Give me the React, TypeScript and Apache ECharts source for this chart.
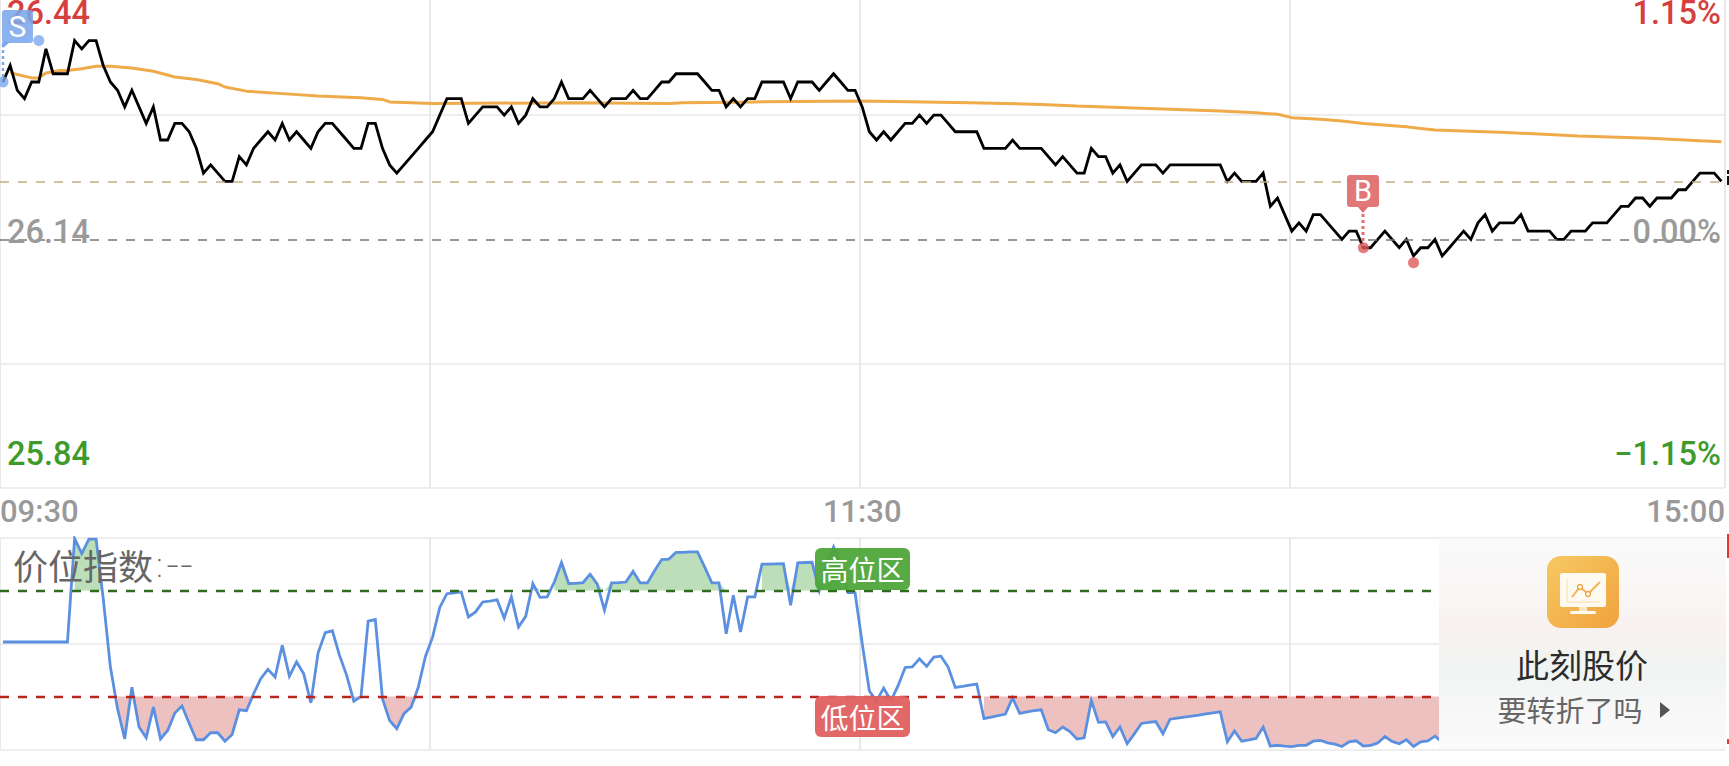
import React, { useEffect, useRef } from "react";
import * as echarts from "echarts";

const PREV_CLOSE = 26.14;
// minute-by-minute price, in cents above the previous close
const priceCents = [
  19,21,18,17,19,19,23,20,20,20,
  24,23,24,24,21,19,18,16,18,16,
  14,16,12,12,14,14,13,11,8,9,
  8,7,7,10,9,11,12,13,12,14,
  12,13,12,11,13,14,14,13,12,11,
  11,14,14,11,9,8,9,10,11,12,
  13,15,17,17,17,14,15,16,16,16,
  15,16,14,15,17,16,16,17,19,17,
  17,17,18,17,16,17,17,17,18,17,
  17,18,19,19,20,20,20,20,19,18,
  18,16,17,16,17,17,19,19,19,19,
  17,19,19,19,18,19,20,19,18,18,
  16,13,12,13,12,13,14,14,15,14,
  15,15,14,13,13,13,13,11,11,11,
  11,12,11,11,11,11,10,9,10,9,
  8,8,11,10,10,8,9,7,8,9,
  9,9,8,9,9,9,9,9,9,9,
  9,7,8,7,7,7,8,4,5,3,
  1,2,1,3,3,2,1,0,1,1,
  -1,-1,0,1,0,-1,0,-2,-1,-1,
  0,-2,-1,0,1,0,2,3,1,2,
  2,2,3,1,1,1,1,0,0,1,
  1,1,2,2,2,3,4,4,5,5,
  4,5,5,5,6,6,7,8,8,8,
  7,
];
// average price line, read at these minutes
const avgMinutes = [1,2,4,5,6,8,9,11,13,15,18,21,24,27,30,31,34,39,44,50,53,54,60,80,93,95,105,120,135,140,145,150,160,170,175,178,180,184,187,190,196,198,200,210,220,230,237,240];
const avgCents = [20.2,19.9,19.5,19.5,20.1,20.4,20.4,20.6,20.9,20.9,20.7,20.3,19.6,19.3,18.8,18.4,17.9,17.6,17.3,17.1,16.9,16.6,16.4,16.5,16.4,16.5,16.6,16.7,16.5,16.4,16.3,16.1,15.8,15.5,15.3,15.1,14.7,14.5,14.3,14.0,13.6,13.4,13.2,12.9,12.5,12.2,11.9,11.8];
// price position index
const indexValues = [
  50.7,50.7,50.7,50.7,50.7,50.7,50.7,50.7,50.7,50.7,
  99.5,92.4,99.2,99.2,71.2,38.9,19.2,5,29.4,10.6,
  5.5,20,5,9,17.2,20.5,12.4,4.6,4.6,7.9,
  7.9,3.9,7.1,18.7,18.3,26.3,33.4,37.8,34.2,49.1,
  34.6,41.3,35.7,22,45.5,55.1,56,44.4,35,22.8,
  25,60.5,61.3,23.9,13.7,9.8,16.9,20,29.4,43.9,
  53,67,73.5,73.9,74.3,62.5,64.9,69.6,70,70.6,
  62,72,57.8,62.8,78.3,71.8,72,79,88.2,78.3,
  78.4,78.7,82.7,78,65.7,78.6,78.7,79,84,78.6,
  78.6,84.3,89.6,89.8,93,93,93.2,93.2,86,78.6,
  78.6,54.6,72.8,55.4,72,72,87.4,87.4,87.6,87.7,
  68,88,88.2,88.3,75,87,95.5,87,74,74,
  50,27.6,22.8,29,23,30,38.7,39,42.8,39.2,
  43.6,44,38.9,29.3,29.8,30.4,30.9,14.6,15.3,16,
  16.7,24.3,17,17.7,18.3,18.7,9.3,7.9,10.6,8.5,
  5,5.5,23.1,12.8,13,6.1,10.6,2.7,7.4,12.3,
  12.8,13.2,7.4,14.3,14.8,15.3,15.7,16.2,16.8,17.3,
  17.8,3.6,8.7,3.9,4.5,5.2,10.6,1.6,2,1.6,
  1.4,1.9,2,3.9,4.3,3.1,2.5,1.4,3.6,4.1,
  1.6,1.9,3.1,6.1,3.8,2.7,4.6,1.4,3.6,4.1,
  6.3,3.5,
];
const HIGH_ZONE = 75;
const LOW_ZONE = 25;
const timeLabels = ["09:30", "11:30", "15:00"];
const priceLabels = ["26.44", "26.14", "25.84"];
const pctLabels = ["1.15%", "0.00%", "\u22121.15%"];
const sellDots = [[0, 19], [5, 24]];
const buyDots = [[190, -1], [197, -2.8]];
const DASH_PRICE = 26.21;

const price = (c: number) => +(PREV_CLOSE + c / 100).toFixed(3);

const X_MIN = -0.419;
const X_MAX = 240.5;
const xSplits = [X_MIN, 59.64, 119.69, 179.75, X_MAX];
const GRID_COLOR = "#e9e9e9";
const NUM_FONT = "Roboto, sans-serif";
const CJK_FONT = '"Noto Sans CJK SC", sans-serif';

function zoneArea(inZone: (v: number) => boolean, thr: number) {
  return indexValues.map((v, i) => {
    if (inZone(v)) return [i, v];
    if (i > 0 && inZone(indexValues[i - 1])) return [i, thr];
    return [i, null];
  });
}

function xAxisBase(gridIndex: number) {
  return {
    type: "value",
    gridIndex,
    min: X_MIN,
    max: X_MAX,
    axisLine: { show: false },
    axisTick: { show: false, customValues: xSplits },
    splitLine: { show: true, lineStyle: { color: GRID_COLOR, width: 2 } },
    axisLabel: { show: false },
  };
}

function badge(x: number, y: number, w: number, h: number, r: number, fill: string, text: string, font: string, opacity: number) {
  return [
    { type: "rect", z: 100, shape: { x, y, width: w, height: h, r }, style: { fill, opacity } },
    { type: "text", z: 101, style: { text, x: x + w / 2, y: y + h / 2, align: "center", verticalAlign: "middle", fill: "#fff", font } },
  ];
}

function buildGraphic() {
  const labelFont = `500 32.5px ${NUM_FONT}`;
  const texts: any[] = [];
  const ys = [13, 232, 454];
  const colors = ["#d5403e", "#9a9a9a", "#3f9a2c"];
  ys.forEach((y, k) => {
    texts.push({ type: "text", z: 90, style: { text: priceLabels[k], x: 7, y, align: "left", verticalAlign: "middle", fill: colors[k], font: labelFont } });
    texts.push({ type: "text", z: 90, style: { text: pctLabels[k], x: 1721, y, align: "right", verticalAlign: "middle", fill: colors[k], font: labelFont } });
  });
  const title = {
    type: "text", z: 90,
    style: {
      text: "{a|价位指数}{b|:--}", x: 13, y: 564, align: "left", verticalAlign: "middle", fill: "#666",
      rich: {
        a: { fontSize: 35, fontFamily: '"Noto Sans CJK SC", sans-serif', fill: "#666" },
        b: { fontSize: 38, fontFamily: '"DejaVu Sans", sans-serif', fontWeight: 300, fill: "#666" },
      },
    },
  };

  const sell = [
    { type: "line", z: 99, shape: { x1: 3, y1: 44, x2: 3, y2: 80 }, style: { stroke: "#7ba7ec", lineWidth: 2.5, lineDash: [3, 3] } },
    { type: "polygon", z: 100, shape: { points: [[2, 42], [10, 42], [3, 48]] }, style: { fill: "#7ba7ec" } },
    ...badge(2, 10, 31, 33, 3, "#7ba7ec", "S", `30px ${NUM_FONT}`, 0.88),
  ];
  const buy = [
    { type: "line", z: 99, shape: { x1: 1363, y1: 208, x2: 1363, y2: 246 }, style: { stroke: "#e07070", lineWidth: 3, lineDash: [3, 3] } },
    { type: "polygon", z: 100, shape: { points: [[1358, 207], [1368, 207], [1363, 213]] }, style: { fill: "#e07070" } },
    ...badge(1347, 175, 32, 32, 3, "#e07070", "B", `29px ${NUM_FONT}`, 0.95),
  ];
  const zones = [
    ...badge(815, 548, 95, 42, 6, "#4fa53a", "高位区", `28px ${CJK_FONT}`, 0.95),
    ...badge(815, 696, 95, 41, 6, "#e06060", "低位区", `28px ${CJK_FONT}`, 0.95),
  ];
  const card = [
    {
      type: "rect", z: 110, shape: { x: 1439, y: 538, width: 287, height: 211 },
      style: {
        fill: new echarts.graphic.LinearGradient(0, 0, 0, 1, [
          { offset: 0, color: "#fafafa" },
          { offset: 0.25, color: "#f9f7f6" },
          { offset: 0.42, color: "#f8f2f1" },
          { offset: 0.62, color: "#f0f4f2" },
          { offset: 0.85, color: "#f8f8f8" },
          { offset: 1, color: "#fafafa" },
        ]),
      },
    },
    {
      type: "rect", z: 111, shape: { x: 1547, y: 556, width: 72, height: 72, r: 14 },
      style: { fill: new echarts.graphic.LinearGradient(0, 0, 1, 1, [{ offset: 0, color: "#f7c862" }, { offset: 1, color: "#f0a33e" }]) },
    },
    { type: "rect", z: 112, shape: { x: 1560, y: 573, width: 46, height: 34, r: 2 }, style: { fill: "#fffaf0" } },
    { type: "rect", z: 112, shape: { x: 1570, y: 611, width: 26, height: 3, r: 1.5 }, style: { fill: "#fffaf0" } },
    { type: "rect", z: 112, shape: { x: 1579, y: 607, width: 8, height: 4 }, style: { fill: "#fbe6c2" } },
    { type: "polyline", z: 113, shape: { points: [[1567, 579], [1567, 602], [1600, 602]] }, style: { stroke: "#f6dcae", lineWidth: 1, fill: "none" } },
    { type: "polyline", z: 113, shape: { points: [[1572, 597], [1580, 587], [1588, 594], [1600, 582]] }, style: { stroke: "#f2b25a", lineWidth: 2, fill: "none" } },
    { type: "circle", z: 114, shape: { cx: 1580, cy: 587, r: 2.5 }, style: { stroke: "#ee9f3a", lineWidth: 1.3, fill: "#fffaf0" } },
    { type: "circle", z: 114, shape: { cx: 1588, cy: 594, r: 2.5 }, style: { stroke: "#ee9f3a", lineWidth: 1.3, fill: "#fffaf0" } },
    { type: "text", z: 112, style: { text: "此刻股价", x: 1582, y: 664, align: "center", verticalAlign: "middle", fill: "#2c2c2c", font: `33px ${CJK_FONT}` } },
    { type: "text", z: 112, style: { text: "要转折了吗", x: 1570, y: 709, align: "center", verticalAlign: "middle", fill: "#666", font: `29px ${CJK_FONT}` } },
    { type: "polygon", z: 112, shape: { points: [[1660, 702], [1670, 710], [1660, 718]] }, style: { fill: "#555" } },
  ];
  const edge = [
    { type: "rect", z: 120, shape: { x: 1727, y: 534, width: 2, height: 24 }, style: { fill: "#e23a30" } },
    { type: "rect", z: 120, shape: { x: 1727, y: 739, width: 2, height: 5 }, style: { fill: "#e23a30" } },
    { type: "rect", z: 120, shape: { x: 1727, y: 170, width: 2, height: 4 }, style: { fill: "#111" } },
    { type: "rect", z: 120, shape: { x: 1727, y: 176, width: 2, height: 9 }, style: { fill: "#111" } },
  ];
  return [...texts, title, ...sell, ...buy, ...zones, ...card, ...edge];
}

export default function App() {
  const ref = useRef<HTMLDivElement>(null);
  useEffect(() => {
    const chart = echarts.init(ref.current!, undefined, { renderer: "svg" });
    const priceSeries = priceCents.map((c, i) => [i, price(c)]);
    const avgSeries = avgMinutes.map((m, k) => [m, price(avgCents[k])]);
    const indexSeries = indexValues.map((v, i) => [i, v]);
    chart.setOption({
      animation: false,
      backgroundColor: "#fff",
      grid: [
        { left: 0, top: 0, width: 1725, height: 488, outerBoundsMode: "none" },
        { left: 0, top: 537.5, width: 1725, height: 212, outerBoundsMode: "none" },
      ],
      xAxis: [
        {
          ...xAxisBase(0),
          axisLabel: {
            show: true,
            customValues: [X_MIN, 120, X_MAX],
            alignMinLabel: "left",
            alignMaxLabel: "right",
            margin: 8,
            color: "#999",
            fontFamily: NUM_FONT,
            fontWeight: 500,
            fontSize: 31,
            formatter: (v: number) => (v < 0 ? timeLabels[0] : v > 240 ? timeLabels[2] : timeLabels[1]),
          },
        },
        xAxisBase(1),
      ],
      yAxis: [
        {
          type: "value", gridIndex: 0, min: 25.84, max: 26.429,
          axisLine: { show: false },
          axisLabel: { show: false },
          axisTick: { show: false, customValues: [25.84, 25.99, 26.29] },
          splitLine: { show: true, lineStyle: { color: GRID_COLOR, width: 1.5 } },
        },
        {
          type: "value", gridIndex: 1, min: 0, max: 100,
          axisLine: { show: false },
          axisLabel: { show: false },
          axisTick: { show: false, customValues: [0, 50, 100] },
          splitLine: { show: true, lineStyle: { color: GRID_COLOR, width: 1.5 } },
        },
      ],
      series: [
        {
          type: "line", xAxisIndex: 0, yAxisIndex: 0, data: [], silent: true, z: 1,
          markLine: {
            silent: true, symbol: "none", label: { show: false }, animation: false,
            data: [
              { yAxis: DASH_PRICE, lineStyle: { color: "#bfae84", type: [9, 9], width: 1.6 } },
              { yAxis: PREV_CLOSE, lineStyle: { color: "#777", type: [9, 9], width: 1.6 } },
            ],
          },
        },
        {
          type: "line", xAxisIndex: 0, yAxisIndex: 0, data: avgSeries, showSymbol: false, z: 3,
          lineStyle: { color: "#efaa4a", width: 3 },
        },
        {
          type: "line", xAxisIndex: 0, yAxisIndex: 0, data: priceSeries, showSymbol: false, z: 4,
          lineStyle: { color: "#000", width: 2.8, join: "miter" },
        },
        {
          type: "scatter", xAxisIndex: 0, yAxisIndex: 0, z: 5, symbolSize: 11, silent: true, clip: false,
          data: sellDots.map(([i, c]) => [i, price(c)]), itemStyle: { color: "#7ba7ec" },
        },
        {
          type: "scatter", xAxisIndex: 0, yAxisIndex: 0, z: 5, symbolSize: 11, silent: true,
          data: buyDots.map(([i, c]) => [i, price(c)]), itemStyle: { color: "#e05a5a" },
        },
        {
          type: "line", xAxisIndex: 1, yAxisIndex: 1, showSymbol: false, z: 2, connectNulls: false,
          data: zoneArea((v) => v >= HIGH_ZONE, HIGH_ZONE),
          lineStyle: { width: 0 }, areaStyle: { origin: HIGH_ZONE, color: "#bcdfb9", opacity: 1 },
        },
        {
          type: "line", xAxisIndex: 1, yAxisIndex: 1, showSymbol: false, z: 2, connectNulls: false,
          data: zoneArea((v) => v <= LOW_ZONE, LOW_ZONE),
          lineStyle: { width: 0 }, areaStyle: { origin: LOW_ZONE, color: "#eec1c1", opacity: 1 },
        },
        {
          type: "line", xAxisIndex: 1, yAxisIndex: 1, data: [], silent: true, z: 3,
          markLine: {
            silent: true, symbol: "none", label: { show: false }, animation: false,
            data: [
              { yAxis: HIGH_ZONE, lineStyle: { color: "#2f6b1e", type: [9, 9], width: 2.4 } },
              { yAxis: LOW_ZONE, lineStyle: { color: "#b8251c", type: [9, 9], width: 2.4 } },
            ],
          },
        },
        {
          type: "line", xAxisIndex: 1, yAxisIndex: 1, data: indexSeries, showSymbol: false, z: 4,
          lineStyle: { color: "#5b90e0", width: 2.8, join: "miter" },
        },
      ],
      graphic: { elements: buildGraphic() },
    });
    return () => chart.dispose();
  }, []);
  return (
    <div
      ref={ref}
      style={{ position: "fixed", left: 0, top: 0, width: 1729, height: 766, background: "#fff" }}
    />
  );
}
